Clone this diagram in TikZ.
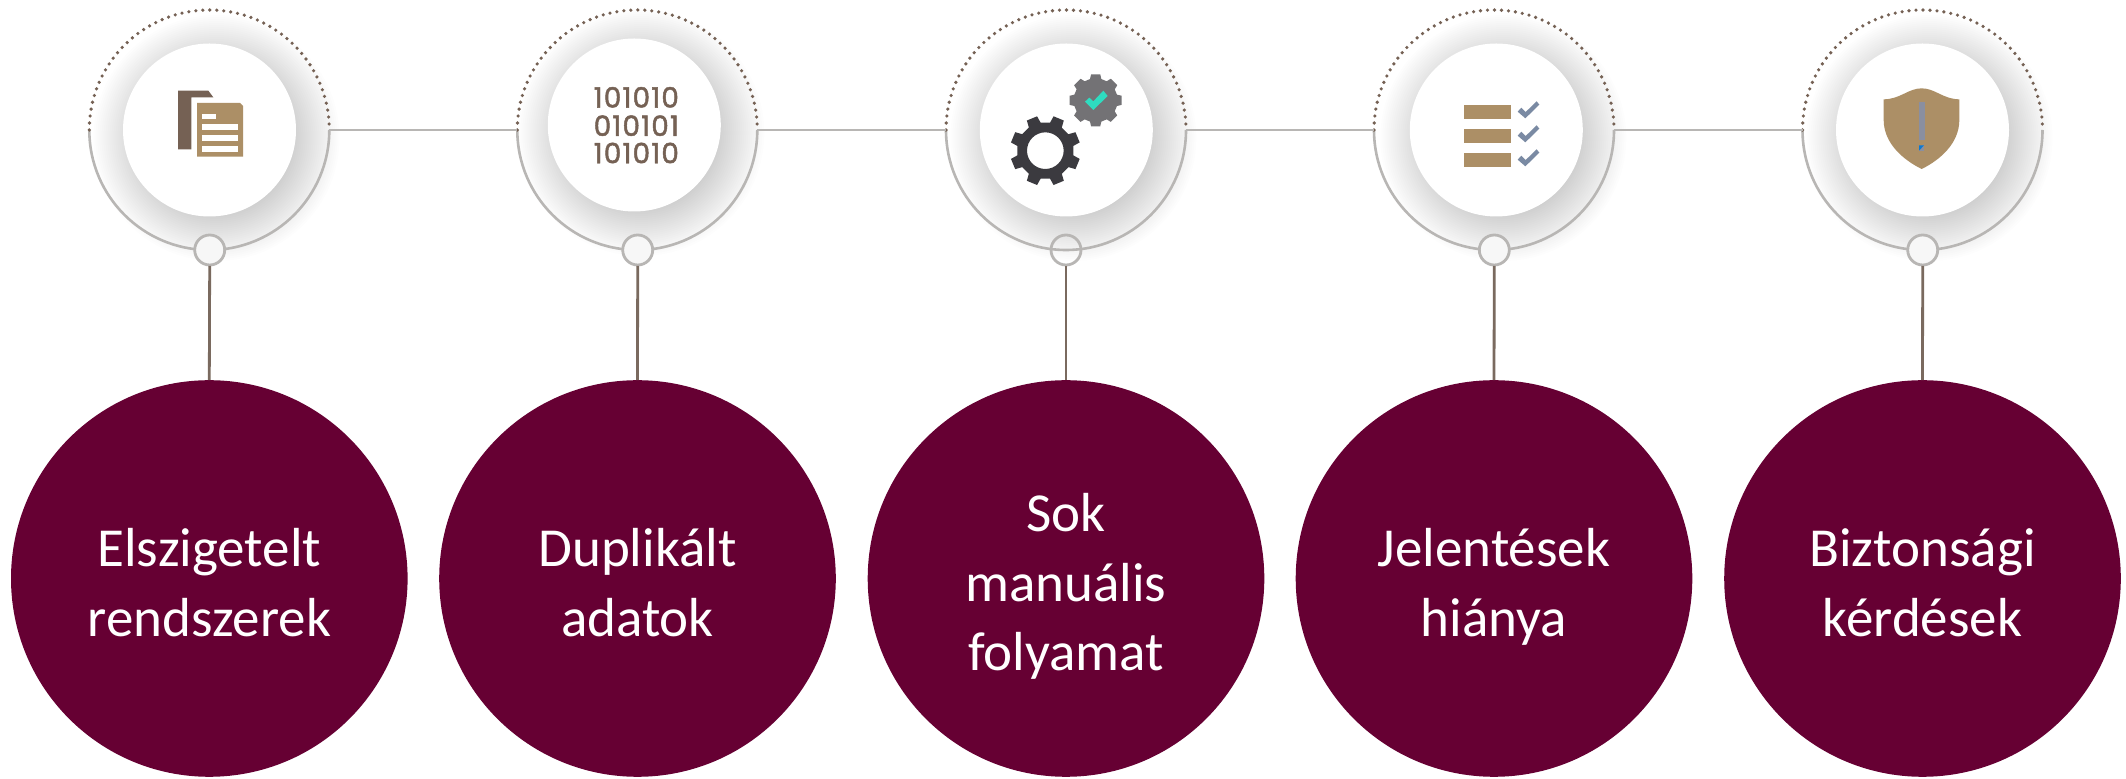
\documentclass[tikz,border=0pt]{standalone}
\usepackage{fontspec}
\usetikzlibrary{calc}
\setmainfont{Carlito}
\newfontfamily\binfont[LetterSpace=4,FakeBold=1.6]{Poppins}
\newcommand\lineprop{\rule[-11pt]{0pt}{68pt}}
\definecolor{wine}{HTML}{660033}
\definecolor{brownd}{HTML}{756154}
\definecolor{tan}{HTML}{AC8F66}
\definecolor{ringg}{HTML}{B8B6B4}
\definecolor{stemc}{HTML}{7A6A5F}
\definecolor{gearA}{HTML}{3B3A3F}
\definecolor{gearB}{HTML}{737275}
\definecolor{teal}{HTML}{2FDCC0}
\definecolor{slateb}{HTML}{7A8AA3}
\definecolor{exclg}{HTML}{8A8FA0}
\definecolor{exclb}{HTML}{0B78D1}
\tikzset{
  hub/.style={circle,minimum size=240pt,inner sep=0pt,outer sep=0pt},
  innerdisc/.style={circle,fill=white,minimum size=173pt,inner sep=0pt,outer sep=0pt},
  knob/.style={circle,draw=ringg,line width=2.8pt,minimum size=30pt,inner sep=0pt,outer sep=1pt},
  bigdisc/.style={circle,fill=wine,text=white,minimum size=396.6pt,inner sep=0pt,outer sep=0pt,align=center,font=\fontsize{55}{69.5}\selectfont},
  hline/.style={draw=ringg,line width=2.6pt},
  ringarc/.style={draw=ringg,line width=2.6pt},
  dotarc/.style={draw=brownd,line width=3.6pt,line cap=round,dash pattern=on 0pt off 7pt},
  stem/.style={draw=stemc,line width=2.8pt},
  binrow/.style={text=brownd,font=\binfont\fontsize{28}{28}\selectfont,inner sep=0pt}
}
\begin{document}
\begin{tikzpicture}[x=1pt,y=1pt]
\useasboundingbox (0,0) rectangle (2126,779);
\fill[white] (0,0) rectangle (2126,779);
% hubs
\foreach \i/\hx/\ix/\iy/\sx in {1/209.3/209.5/649/209.7,2/637.3/634.3/654/637.7,3/1066/1066.3/649/1066,4/1494/1496.3/649/1494.3,5/1922.5/1922.5/649/1922.7}{
  \foreach \r in {75,77,...,123}{
    \fill[black,opacity=.0075] (\ix+7,\iy-8) circle[radius=\r];
  }
  \node[hub] (hub\i) at (\hx,649) {};
  \draw[ringarc] (hub\i.west) arc[start angle=180,end angle=360,radius=120];
  \draw[dotarc] (hub\i.west) arc[start angle=180,end angle=0,radius=120];
  \node[innerdisc] (inner\i) at (\ix,\iy) {};
}
\node[knob,fill=white!97!black] (knob1) at (209.7,529) {};
\node[knob,fill=white!97!black] (knob2) at (637.7,529) {};
\node[knob] (knob3) at (1066,529) {};
\node[knob,fill=white!97!black] (knob4) at (1494.3,529) {};
\node[knob,fill=white!97!black] (knob5) at (1922.7,529) {};
% big discs
\node[bigdisc] (big1) at (209.3,200.5) {\lineprop Elszigetelt\\rendszerek\lineprop};
\node[bigdisc] (big2) at (637.5,200.5) {\lineprop Duplikált\\adatok\lineprop};
\node[bigdisc] (big3) at (1066,200.5) {\lineprop Sok\\manuális\\folyamat\lineprop};
\node[bigdisc] (big4) at (1494,200.5) {\lineprop Jelentések\\hiánya\lineprop};
\node[bigdisc] (big5) at (1922.5,200.5) {\lineprop Biztonsági\\kérdések\lineprop};
% connectors
\draw[hline] (hub1.east) -- (hub2.west);
\draw[hline] (hub2.east) -- (hub3.west);
\draw[hline] (hub3.east) -- (hub4.west);
\draw[hline] (hub4.east) -- (hub5.west);
\foreach \i in {1,...,5}{ \draw[stem] (knob\i.south) -- (big\i.north); }
% icon 1
\begin{scope}[shift={(60,779)},xscale=.33333,yscale=-.33333]
  \fill[brownd] (354,272) -- (445,272) -- (460,292) -- (394,292) -- (394,448) -- (354,448) -- cycle;
  \fill[tan] (411,309) -- (540,309) -- (549,318) -- (549,470) -- (411,470) -- cycle;
  \fill[white] (427,342) rectangle (468,358);
  \fill[white] (427,373) rectangle (533,390);
  \fill[white] (427,406) rectangle (533,423);
  \fill[white] (427,438) rectangle (533,455);
\end{scope}
% icon 2
\node[binrow] (bin1) at (636.3,681.7) {101010};
\node[binrow] (bin2) at (636.3,653.3) {010101};
\node[binrow] (bin3) at (636.3,626) {101010};
% icon 3
\begin{scope}[shift={(930,779)},xscale=.33333,yscale=-.33333]
  \fill[gearA,even odd rule] (346,452) circle[radius=55]
   ($(346,452)+(9.5:85)$)
   \foreach \a in {22.5,67.5,...,337.5}{
     -- ($(346,452)+(\a-13:85)$) -- ($(346,452)+(\a-9:106)$) -- ($(346,452)+(\a+9:106)$) -- ($(346,452)+(\a+13:85)$)
   } -- cycle;
  \fill[gearB]
   ($(497,301)+(-15:66)$)
   \foreach \a in {0,45,...,315}{
     -- ($(497,301)+(\a-15:66)$) -- ($(497,301)+(\a-10:79)$) -- ($(497,301)+(\a+10:79)$) -- ($(497,301)+(\a+15:66)$)
   } -- cycle;
  \fill[teal] (465,305) -- (478,293) -- (490,304) -- (520,272) -- (533,288) -- (490,330) -- cycle;
\end{scope}
% icon 4
\begin{scope}[shift={(1360,779)},xscale=.33333,yscale=-.33333]
  \foreach \d in {0,72,144}{
    \fill[tan] (312,315+\d) rectangle (453,357+\d);
    \fill[slateb] (473,335+\d) -- (484,323+\d) -- (497,336+\d) -- (530,304+\d) -- (538,314+\d) -- (496,355+\d) -- cycle;
  }
\end{scope}
% icon 5
\begin{scope}[shift={(1790,779)},xscale=.33333,yscale=-.33333]
  \fill[tan] (281,298) .. controls (330,298) and (355,265) .. (395,265) .. controls (435,265) and (460,298) .. (508,298) -- (508,360) .. controls (508,430) and (450,480) .. (395,507) .. controls (340,480) and (281,430) .. (281,360) -- cycle;
  \fill[exclg] (387,305) rectangle (405,419);
  \fill[exclg] (387,436) rectangle (402,452);
  \fill[exclb] (387,436) -- (402,436) -- (387,452) -- cycle;
\end{scope}
\end{tikzpicture}
\end{document}
